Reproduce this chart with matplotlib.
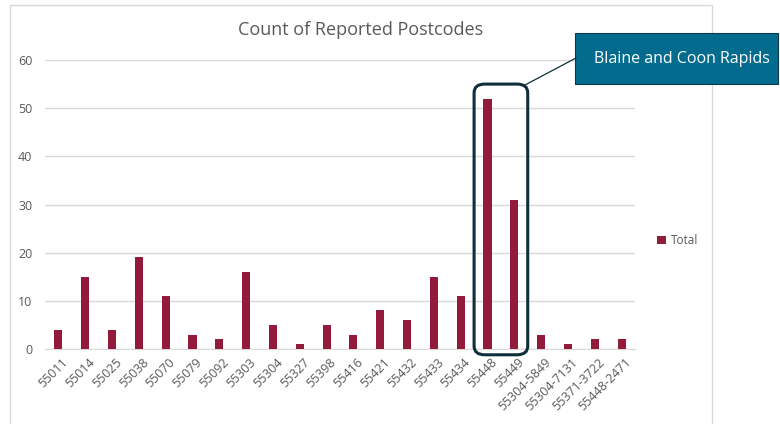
import matplotlib.pyplot as plt
import matplotlib.transforms as mtransforms
from matplotlib.patches import FancyBboxPatch, Rectangle
from matplotlib.lines import Line2D

postcodes = ['55011', '55014', '55025', '55038', '55070', '55079', '55092',
             '55303', '55304', '55327', '55398', '55416', '55421', '55432',
             '55433', '55434', '55448', '55449', '55304-5849', '55304-7131',
             '55371-3722', '55448-2471']
totals = [4, 15, 4, 19, 11, 3, 2, 16, 5, 1, 5, 3, 8, 6, 15, 11, 52, 31, 3, 1, 2, 2]
highlight = ['55448', '55449']
callout_text = 'Blaine and Coon Rapids'

W, H = 780, 424
plt.rcParams['font.family'] = ['Open Sans', 'DejaVu Sans']

fig = plt.figure(figsize=(W / 100, H / 100), dpi=100)
fig.patch.set_facecolor('white')


def fx(px):
    return px / W


def fy(py):
    return 1 - py / H


# chart frame
fig.patches.append(Rectangle((fx(10), fy(440)), fx(712) - fx(10), fy(5) - fy(440),
                             transform=fig.transFigure, fill=False,
                             edgecolor='#d9d9d9', lw=1))

ax = fig.add_axes([fx(45), fy(349), fx(635) - fx(45), fy(60) - fy(349)])
x = range(len(postcodes))
ax.bar(x, totals, width=0.3, color='#921B3C', label='Total', zorder=3)
ax.set_xlim(-0.5, len(postcodes) - 0.5)
ax.set_ylim(0, 60)
ax.set_yticks(range(0, 61, 10))
ax.grid(axis='y', color='#d9d9d9', lw=1, zorder=0)
for s in ['top', 'right', 'left']:
    ax.spines[s].set_visible(False)
ax.spines['bottom'].set_color('#d9d9d9')
ax.tick_params(length=0, colors='#595959', labelsize=9)
ax.tick_params(axis='y', pad=9)
ax.set_xticks(list(x))
ax.set_xticklabels(postcodes, rotation=45, ha='right', rotation_mode='anchor')
ax.tick_params(axis='x', pad=5)
shift = mtransforms.ScaledTranslation(3 / 100, 0, fig.dpi_scale_trans)
for lbl in ax.get_xticklabels():
    lbl.set_transform(lbl.get_transform() + shift)

fig.text(fx(361), fy(30), 'Count of Reported Postcodes', ha='center', va='center',
         fontsize=13, color='#595959')

ax.legend(loc='center left', bbox_to_anchor=(1.02, 0.375), frameon=False,
          fontsize=8.5, labelcolor='#595959', handlelength=0.7, handleheight=0.7,
          handletextpad=0.4)

# highlight box around the Blaine / Coon Rapids bars
i0 = postcodes.index(highlight[0])
i1 = postcodes.index(highlight[-1])
box = FancyBboxPatch((i0 - 0.5, -1.2), (i1 - i0) + 1.0, 56.2,
                     boxstyle='round,pad=0,rounding_size=0.4',
                     mutation_aspect=4.5, fill=False, edgecolor='#0E2F3A',
                     lw=2.2, clip_on=False, zorder=4)
ax.add_patch(box)

# callout
fig.patches.append(Rectangle((fx(575), fy(84)), fx(778) - fx(575), fy(33) - fy(84),
                             transform=fig.transFigure, facecolor='#036C8E',
                             edgecolor='#0E3A48', lw=0.8))
fig.text(fx(682), fy(59), callout_text, ha='center', va='center', fontsize=11.5,
         color='white')
fig.lines.append(Line2D([fx(576), fx(525)], [fy(58), fy(85)], transform=fig.transFigure,
                        color='#0E2F3A', lw=0.9))

fig.savefig('out.png', dpi=100)
